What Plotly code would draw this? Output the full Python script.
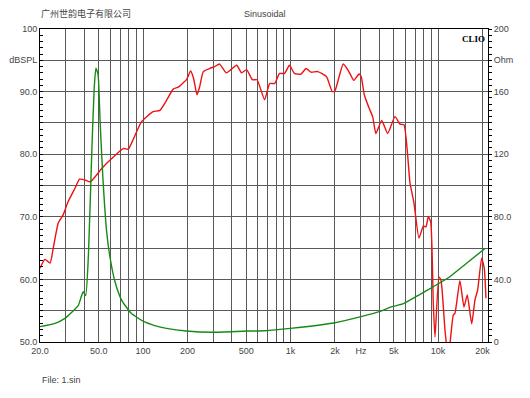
import math
import plotly.graph_objects as go

# ---- data ----
freq_spl = [20, 21.6, 23.4, 24.6, 26.6, 28.7, 31, 34.6, 37.1, 40.3, 43.9, 52.4, 61.2, 73.4, 79.3,
            85.5, 97.6, 117, 130, 145, 160, 173, 187, 197, 210, 220, 232, 242, 256, 283, 306, 330,
            367, 431, 465, 503, 551, 592, 667, 722, 780, 842, 910, 983, 1061, 1177, 1274, 1377,
            1526, 1749, 1918, 1996, 2276, 2483, 2686, 2913, 3010, 3160, 3416, 3600, 3790, 4147,
            4553, 5104, 5518, 5872, 6450, 6864, 7422, 7937, 8280, 8580, 8910, 9280, 9530, 10140,
            10460, 11140, 11720, 12680, 13020, 14060, 14980, 15770, 16900, 17780, 18540, 19750,
            20560, 21120]
spl_db = [61.8, 63.2, 62.6, 65.0, 69.0, 70.3, 72.4, 74.6, 76.0, 75.9, 75.6, 77.7, 79.3, 80.9, 80.8,
          82.3, 85.2, 86.8, 87.0, 88.7, 90.4, 90.7, 91.4, 91.9, 93.3, 92.1, 89.5, 90.8, 93.2, 93.7,
          94.0, 94.4, 93.0, 94.2, 93.0, 93.5, 91.9, 91.9, 88.7, 91.3, 91.3, 92.9, 92.9, 94.2, 92.9,
          92.8, 93.7, 93.1, 93.2, 92.4, 90.0, 90.1, 94.4, 93.2, 91.8, 92.8, 92.4, 89.5, 87.3, 86.0,
          83.3, 85.4, 83.3, 86.0, 84.8, 84.7, 75.4, 72.2, 66.6, 68.5, 68.4, 70.0, 69.2, 56.2, 50.8,
          60.4, 59.9, 51.9, 47.5, 54.3, 54.6, 59.8, 55.6, 57.5, 52.9, 56.7, 58.3, 63.4, 61.8, 57.0]

freq_imp = [20, 25.3, 29.5, 32.8, 36.3, 38.1, 39.3, 40.8, 42.6, 44.8, 46.6, 47.9, 49.5, 51.1, 53.4,
            56.6, 59.3, 64.5, 71.5, 83.2, 100, 120, 144, 196, 298, 502, 667, 1000, 2000, 3000,
            4000, 4870, 5770, 7400, 9280, 12000, 15600, 20900]
imp_ohm = [9.8, 11.9, 15.1, 19.0, 23.2, 29.0, 32.1, 29.6, 55.6, 119, 162, 175, 171, 141, 104.6,
           70.5, 55.6, 38.5, 26.8, 18.3, 13.3, 10.5, 8.7, 7.0, 6.2, 7.0, 7.2, 8.7, 12.3, 16.2,
           19.4, 22.6, 24.3, 30.0, 35.3, 41.7, 50.3, 59.9]

x_grid = [20, 30, 40, 50, 60, 70, 80, 90, 100, 200, 300, 400, 500, 600, 700, 800, 900,
          1000, 2000, 3000, 4000, 5000, 6000, 7000, 8000, 9000, 10000, 20000]
x_labels = {20: "20.0", 50: "50.0", 100: "100", 200: "200", 500: "500", 1000: "1k",
            2000: "2k", 3000: "Hz", 5000: "5k", 10000: "10k", 20000: "20k"}

y_ticks = [50, 55, 60, 65, 70, 75, 80, 85, 90, 95, 100]
y_labels = ["50.0", "", "60.0", "", "70.0", "", "80.0", "", "90.0", "dBSPL", "100"]
y2_ticks = [0, 20, 40, 60, 80, 100, 120, 140, 160, 180, 200]
y2_labels = ["0", "", "40.0", "", "80.0", "", "120", "", "160", "Ohm", "200"]

FONT = "Liberation Sans, Arial, sans-serif"
TXT = "#444444"
GRID = "#5a5a5a"

fig = go.Figure()
fig.add_trace(go.Scatter(x=freq_imp, y=imp_ohm, mode="lines", yaxis="y2",
                         line=dict(color="#168a16", width=1.4, shape="spline", smoothing=0.5),
                         showlegend=False, hoverinfo="skip"))
fig.add_trace(go.Scatter(x=freq_spl, y=spl_db, mode="lines",
                         line=dict(color="#ee1111", width=1.4, shape="spline", smoothing=0.5),
                         showlegend=False, hoverinfo="skip"))

# page body has an 8px default margin, so the figure is shrunk/shifted to compensate
fig.update_layout(
    width=522, height=390,
    margin=dict(l=32, r=42, t=21, b=56),
    paper_bgcolor="white", plot_bgcolor="white",
    font=dict(family=FONT, size=9, color=TXT),
    xaxis=dict(type="log", range=[math.log10(20), math.log10(21800)],
               tickmode="array", tickvals=x_grid,
               ticktext=[x_labels.get(v, "") for v in x_grid],
               showgrid=True, gridcolor=GRID, gridwidth=1,
               showline=True, linecolor="black", linewidth=1, mirror=True,
               ticks="", tickfont=dict(size=9, color=TXT), zeroline=False,
               automargin=False),
    yaxis=dict(range=[50, 100], tickmode="array", tickvals=y_ticks, ticktext=y_labels,
               showgrid=True, gridcolor=GRID, gridwidth=1,
               showline=True, linecolor="black", linewidth=1,
               ticks="inside", ticklen=3, tickcolor="black",
               minor=dict(dtick=1, ticks="inside", ticklen=3, tickcolor="black", showgrid=False),
               tickfont=dict(size=9, color=TXT), zeroline=False, automargin=False),
    yaxis2=dict(range=[0, 200], overlaying="y", side="right", anchor="x",
                tickmode="array", tickvals=y2_ticks, ticktext=y2_labels,
                showgrid=False, showline=True, linecolor="black", linewidth=1,
                ticks="outside", ticklen=3, tickcolor="black",
                minor=dict(dtick=4, ticks="outside", ticklen=3, tickcolor="black", showgrid=False),
                tickfont=dict(size=9, color=TXT), zeroline=False, automargin=False),
    annotations=[
        dict(text="广州世韵电子有限公司", xref="paper", yref="paper", x=-0.002, y=1.048,
             xanchor="left", yanchor="middle", showarrow=False,
             font=dict(family="Noto Sans CJK SC", size=9, color=TXT)),
        dict(text="Sinusoidal", xref="paper", yref="paper", x=0.502, y=1.048,
             xanchor="center", yanchor="middle", showarrow=False,
             font=dict(family=FONT, size=9, color=TXT)),
        dict(text="<b>CLIO</b>", xref="paper", yref="paper", x=0.997, y=0.99,
             xanchor="right", yanchor="top", showarrow=False,
             font=dict(family="Liberation Serif, DejaVu Serif, serif", size=9, color="black")),
        dict(text="File: 1.sin", xref="paper", yref="paper", x=0.0, y=-0.121,
             xanchor="left", yanchor="middle", showarrow=False,
             font=dict(family=FONT, size=9, color=TXT)),
    ],
)

fig.write_html("out.html")
